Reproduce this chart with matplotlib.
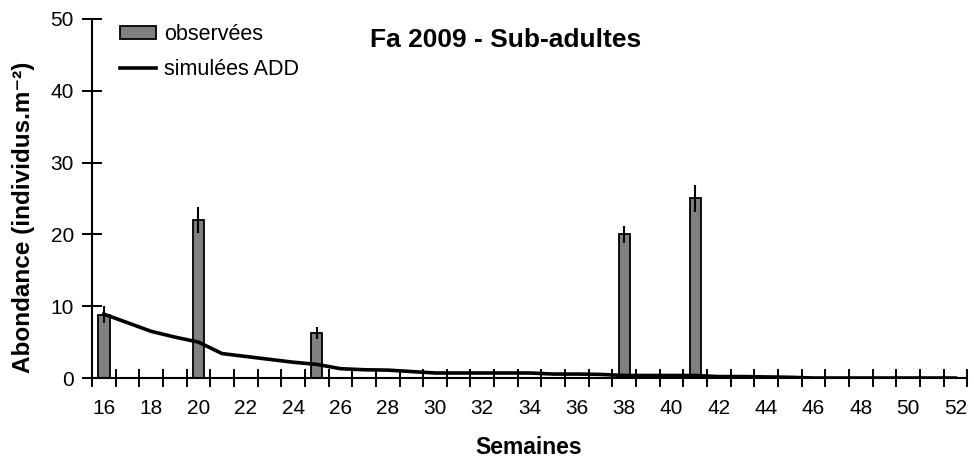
import numpy as np
import matplotlib
matplotlib.use("Agg")
import matplotlib.pyplot as plt
from matplotlib.ticker import FixedLocator

plt.rcParams['font.family'] = ['Liberation Sans', 'DejaVu Sans']

# Weeks of the season
weeks = list(range(16, 53))

# Observed sub-adult abundance (weeks sampled) with error bars
obs_weeks = [16, 20, 25, 38, 41]
obs_values = [8.8, 22.0, 6.3, 20.0, 25.0]
obs_errors = [1.2, 1.8, 0.85, 1.2, 1.9]

# Simulated abundance (ADD model), one value per week 16..52
sim_values = [8.9, 7.7, 6.5, 5.7, 5.0, 3.4, 3.0, 2.6, 2.2, 1.9,
              1.3, 1.15, 1.1, 0.9, 0.7, 0.7, 0.7, 0.7, 0.7, 0.55,
              0.55, 0.5, 0.35, 0.35, 0.35, 0.35, 0.2, 0.2, 0.15, 0.1,
              0.0, 0.0, 0.0, 0.0, 0.0, 0.0, 0.0]

tick_labels = [str(w) for w in range(16, 53, 2)]

fig = plt.figure(figsize=(9.74, 4.62), dpi=100)
ax = fig.add_axes([0.0945, 0.1818, 0.8985, 0.7771])

pos = {w: i for i, w in enumerate(weeks)}
xb = [pos[w] for w in obs_weeks]
bars = ax.bar(xb, obs_values, width=0.48, color='#808080', edgecolor='black',
              linewidth=1.3, zorder=2)
ax.errorbar(xb, obs_values, yerr=obs_errors, fmt='none', ecolor='black',
            elinewidth=1.5, capsize=0, zorder=3)
line, = ax.plot(range(len(weeks)), sim_values, color='black', lw=2.6, zorder=4)

ax.set_xlim(-0.5, len(weeks) - 0.5)
ax.set_ylim(0, 50)
ax.set_yticks([0, 10, 20, 30, 40, 50])

# category boundaries as ticks, labels every second week
ax.xaxis.set_major_locator(FixedLocator(np.arange(-0.5, len(weeks), 1.0)))
ax.set_xticklabels([])
ax.xaxis.set_minor_locator(FixedLocator([pos[w] for w in range(16, 53, 2)]))
ax.set_xticklabels(tick_labels, minor=True)
ax.tick_params(axis='x', which='major', direction='inout', length=13, width=1.4)
ax.tick_params(axis='x', which='minor', length=0, labelsize=15, pad=15)
ax.tick_params(axis='y', direction='inout', length=14, width=1.4, labelsize=15, pad=6)

for s in ['top', 'right']:
    ax.spines[s].set_visible(False)
for s in ['left', 'bottom']:
    ax.spines[s].set_linewidth(1.5)

fig.text(0.543, 1 - 447 / 462, 'Semaines', fontsize=16.5, fontweight='bold',
         ha='center', va='center')
fig.text(24 / 974, 1 - 217 / 462, 'Abondance (individus.m⁻²)', fontsize=17.5,
         fontweight='bold', ha='center', va='center', rotation=90)
fig.text(506 / 974, 1 - 40 / 462, 'Fa 2009 - Sub-adultes',
         fontsize=19, fontweight='bold', ha='center', va='center')

fig.legend([bars, line], ['observées', 'simulées ADD'], loc='upper left',
           bbox_to_anchor=(120 / 974, 1 - 24 / 462), frameon=False,
           fontsize=15.5, handlelength=1.65, handleheight=0.55,
           handletextpad=0.4, labelspacing=0.65, borderpad=0, borderaxespad=0)

fig.savefig('out.png', dpi=100)
